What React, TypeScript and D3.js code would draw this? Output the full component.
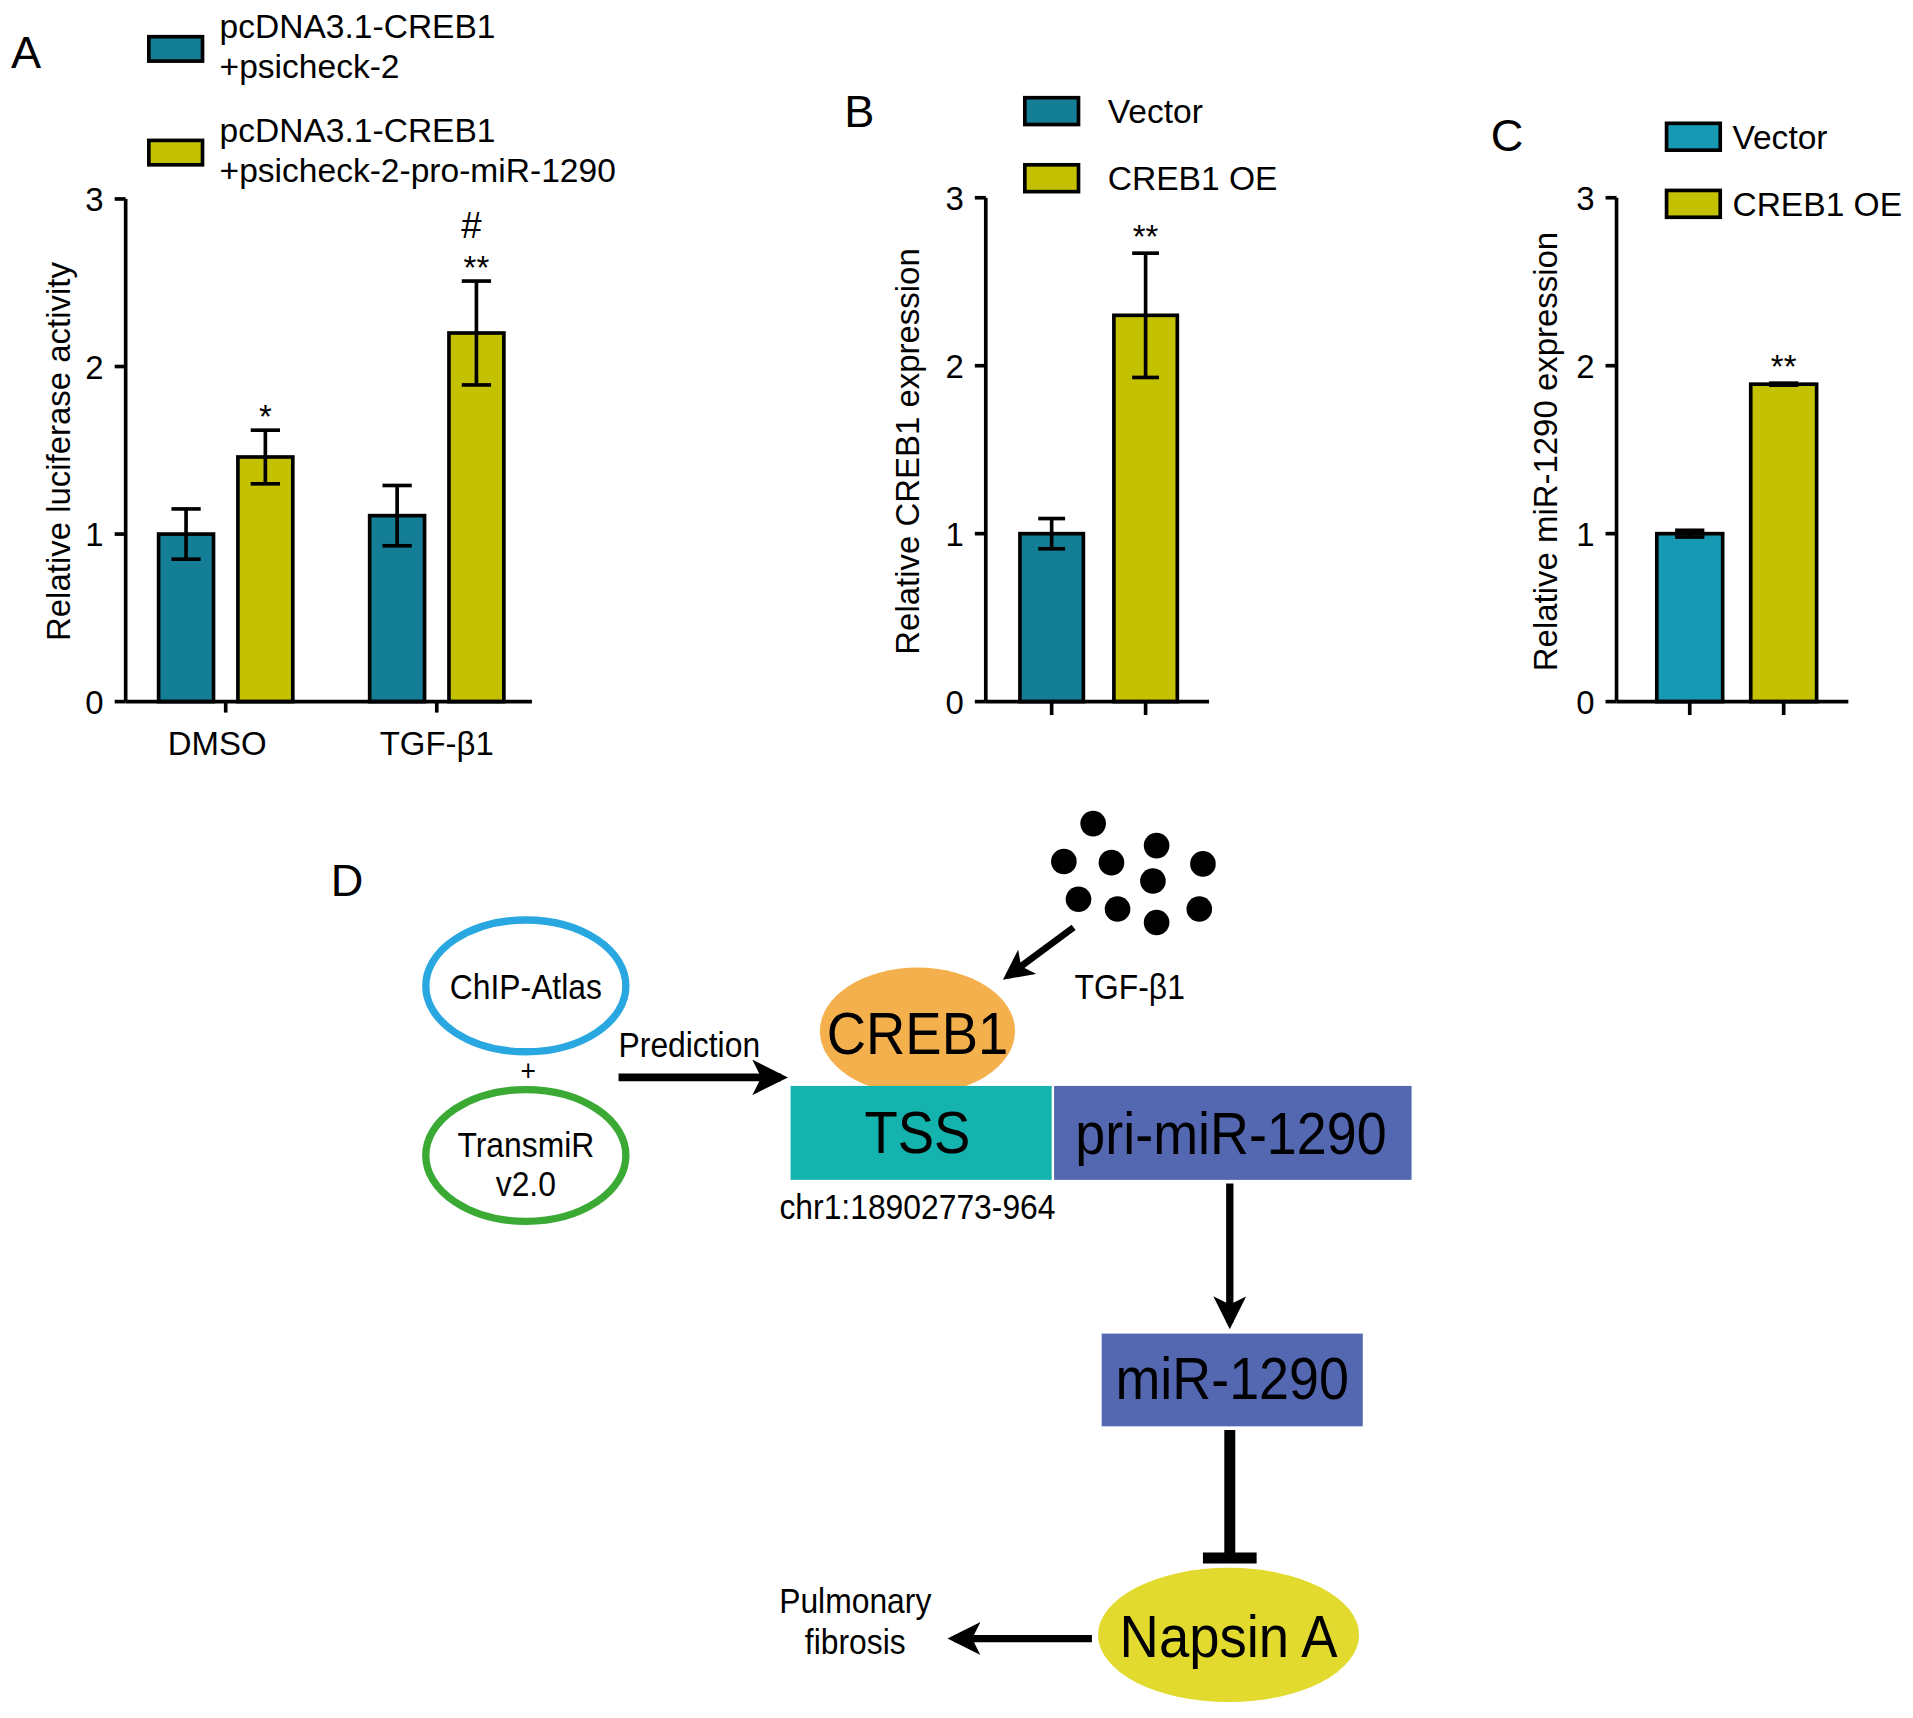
import React from "react";
import * as d3 from "d3";

// ---------- Data ----------
const groupsA = ["DMSO", "TGF-β1"];
const legendA = [
  ["pcDNA3.1-CREB1", "+psicheck-2"],
  ["pcDNA3.1-CREB1", "+psicheck-2-pro-miR-1290"],
];
const vectorA = [1.0, 1.11];
const vectorErrA = [0.15, 0.18];
const oeA = [1.46, 2.2];
const oeErrA = [0.16, 0.31];
const sigA = ["*", "**"];

const groupsBC = ["Vector", "CREB1 OE"];
const valuesB = [1.0, 2.3];
const errB = [0.09, 0.37];
const valuesC = [1.0, 1.89];
const errC = [0.02, 0.006];

const yTicks = [0, 1, 2, 3];

const TEAL = "#137e95";
const TEAL_C = "#1799b3";
const YELLOW = "#c4c100";
const FONT = "'Liberation Sans', Arial, Helvetica, sans-serif";

function YAxis({ x, y, ticks }: { x: number; y: d3.ScaleLinear<number, number>; ticks: number[] }) {
  return (
    <g>
      <line x1={x} x2={x} y1={y(3)} y2={y(0)} stroke="#000" strokeWidth={3} />
      {ticks.map((t) => (
        <g key={t}>
          <line x1={x - 9} x2={x} y1={y(t)} y2={y(t)} stroke="#000" strokeWidth={3} />
          <text x={x - 18} y={y(t) + 10} textAnchor="end" fontSize={27} fontFamily={FONT}>
            {t}
          </text>
        </g>
      ))}
    </g>
  );
}

function ErrBar({ cx, y, v, e, cap }: { cx: number; y: any; v: number; e: number; cap: number }) {
  return (
    <g stroke="#000" strokeWidth={3}>
      <line x1={cx} x2={cx} y1={y(v + e)} y2={y(v - e)} />
      <line x1={cx - cap / 2} x2={cx + cap / 2} y1={y(v + e)} y2={y(v + e)} />
      <line x1={cx - cap / 2} x2={cx + cap / 2} y1={y(v - e)} y2={y(v - e)} />
    </g>
  );
}

function NText({ x, y, size, children, sx = 0.9 }: any) {
  return (
    <g transform={`translate(${x},${y}) scale(${sx},1)`}>
      <text x={0} y={0} textAnchor="middle" fontSize={size} fontFamily={FONT}>{children}</text>
    </g>
  );
}

function PanelA() {
  const y = d3.scaleLinear().domain([0, 3]).range([575, 163]);
  const x = d3.scalePoint<string>().domain(groupsA).range([185, 358]);
  const bw = 45;
  const off = 32.5;
  const axisX = 103;
  return (
    <g>
      <text x={9} y={56} fontSize={37} fontFamily={FONT}>A</text>
      {legendA.map((lines, i) => (
        <g key={i}>
          <rect x={122} y={30 + i * 85} width={44} height={20} fill={i === 0 ? TEAL : YELLOW} stroke="#000" strokeWidth={3} />
          <text x={180} y={31 + i * 85} fontSize={27.5} fontFamily={FONT}>{lines[0]}</text>
          <text x={180} y={64 + i * 85} fontSize={27.5} fontFamily={FONT}>{lines[1]}</text>
        </g>
      ))}
      {groupsA.map((g, i) => {
        const cx = x(g)!;
        return (
          <g key={g}>
            <rect x={cx - off - bw / 2} y={y(vectorA[i])} width={bw} height={y(0) - y(vectorA[i])} fill={TEAL} stroke="#000" strokeWidth={3} />
            <rect x={cx + off - bw / 2} y={y(oeA[i])} width={bw} height={y(0) - y(oeA[i])} fill={YELLOW} stroke="#000" strokeWidth={3} />
            <ErrBar cx={cx - off} y={y} v={vectorA[i]} e={vectorErrA[i]} cap={24} />
            <ErrBar cx={cx + off} y={y} v={oeA[i]} e={oeErrA[i]} cap={24} />
            <text x={cx + off} y={y(oeA[i] + oeErrA[i]) - 2} textAnchor="middle" fontSize={27} fontFamily={FONT}>{sigA[i]}</text>
            <line x1={cx} x2={cx} y1={y(0)} y2={y(0) + 9} stroke="#000" strokeWidth={3} />
            <text x={cx - (i === 0 ? 7 : 0)} y={619} textAnchor="middle" fontSize={27} fontFamily={FONT}>{g}</text>
          </g>
        );
      })}
      <text x={x("TGF-β1")! + off - 4} y={195} textAnchor="middle" fontSize={30} fontFamily={FONT}>#</text>
      <line x1={axisX} x2={436} y1={y(0)} y2={y(0)} stroke="#000" strokeWidth={3} />
      <YAxis x={axisX} y={y} ticks={yTicks} />
      <text transform={`translate(57,370) rotate(-90)`} textAnchor="middle" fontSize={27} fontFamily={FONT}>
        Relative luciferase activity
      </text>
    </g>
  );
}

function PanelBC({
  letter, letterX, letterY, axisX, axisEnd, range, bw, values, errs, teal, legendX, legendTextX, legendY, legendGap, title, titleX, sigGap, cap,
}: any) {
  const y = d3.scaleLinear().domain([0, 3]).range([575, 162]);
  const x = d3.scalePoint<string>().domain(groupsBC).range(range);
  return (
    <g>
      <text x={letterX} y={letterY} fontSize={37} fontFamily={FONT}>{letter}</text>
      {groupsBC.map((g, i) => (
        <g key={g}>
          <rect x={legendX} y={legendY + i * legendGap - 11} width={44} height={22} fill={i === 0 ? teal : YELLOW} stroke="#000" strokeWidth={3} />
          <text x={legendTextX} y={legendY + i * legendGap + 10} fontSize={27.5} fontFamily={FONT}>{g}</text>
        </g>
      ))}
      {groupsBC.map((g, i) => {
        const cx = x(g)!;
        return (
          <g key={g}>
            <rect x={cx - bw / 2} y={y(values[i])} width={bw} height={y(0) - y(values[i])} fill={i === 0 ? teal : YELLOW} stroke="#000" strokeWidth={3} />
            <ErrBar cx={cx} y={y} v={values[i]} e={errs[i]} cap={cap} />
            <line x1={cx} x2={cx} y1={y(0)} y2={y(0) + 11} stroke="#000" strokeWidth={3} />
            {i === 1 && (
              <text x={cx} y={y(values[i] + errs[i]) - sigGap} textAnchor="middle" fontSize={27} fontFamily={FONT}>**</text>
            )}
          </g>
        );
      })}
      <line x1={axisX} x2={axisEnd} y1={y(0)} y2={y(0)} stroke="#000" strokeWidth={3} />
      <YAxis x={axisX} y={y} ticks={yTicks} />
      <text transform={`translate(${titleX},370) rotate(-90)`} textAnchor="middle" fontSize={27} fontFamily={FONT}>
        {title}
      </text>
    </g>
  );
}

function PanelD() {
  const dots: [number, number][] = [
    [896, 675], [872, 706], [911, 707], [948, 693], [986, 708],
    [945, 722], [884, 737], [916, 745], [948, 756], [983, 745],
  ];
  return (
    <g>
      <defs>
        <marker id="ah" viewBox="0 0 10 10" refX="8" refY="5" markerWidth="4.5" markerHeight="4.5" orient="auto-start-reverse">
          <path d="M0,0 L10,5 L0,10 L2.5,5 z" fill="#000" />
        </marker>
      </defs>
      <text x={271} y={734} fontSize={37} fontFamily={FONT}>D</text>
      <ellipse cx={431} cy={808} rx={82} ry={54} fill="none" stroke="#29a7e1" strokeWidth={6} />
      <NText x={431} y={819} size={29}>ChIP-Atlas</NText>
      <NText x={433} y={886} size={24}>+</NText>
      <ellipse cx={431} cy={947} rx={82} ry={54} fill="none" stroke="#3aaa35" strokeWidth={6} />
      <NText x={431} y={948} size={29}>TransmiR</NText>
      <NText x={431} y={980} size={29}>v2.0</NText>
      <NText x={565} y={866} size={29}>Prediction</NText>
      <line x1={507} x2={640} y1={883} y2={883} stroke="#000" strokeWidth={6.5} markerEnd="url(#ah)" />
      {dots.map(([cx, cy], i) => (
        <circle key={i} cx={cx} cy={cy} r={10.5} fill="#000" />
      ))}
      <NText x={926} y={819} size={29}>TGF-β1</NText>
      <line x1={880} x2={826} y1={760} y2={800} stroke="#000" strokeWidth={5.5} markerEnd="url(#ah)" />
      <ellipse cx={752} cy={845} rx={80} ry={52} fill="#f5b04e" />
      <rect x={648} y={890} width={214} height={77} fill="#15b3ad" />
      <rect x={864} y={890} width={293} height={77} fill="#5468b2" />
      <NText x={752} y={864} size={48} sx={0.93}>CREB1</NText>
      <NText x={752} y={945} size={48} sx={0.93}>TSS</NText>
      <NText x={1009} y={946} size={48} sx={0.92}>pri-miR-1290</NText>
      <NText x={752} y={999} size={29}>chr1:18902773-964</NText>
      <line x1={1008} x2={1008} y1={970} y2={1084} stroke="#000" strokeWidth={6} markerEnd="url(#ah)" />
      <rect x={903} y={1093} width={214} height={76} fill="#5468b2" />
      <NText x={1010} y={1147} size={48} sx={0.92}>miR-1290</NText>
      <line x1={1008} x2={1008} y1={1172} y2={1275} stroke="#000" strokeWidth={9} />
      <line x1={986} x2={1030} y1={1277} y2={1277} stroke="#000" strokeWidth={9} />
      <ellipse cx={1007} cy={1340} rx={107} ry={55} fill="#e3da2f" />
      <NText x={1007} y={1358} size={48} sx={0.93}>Napsin A</NText>
      <line x1={895} x2={782} y1={1343} y2={1343} stroke="#000" strokeWidth={6} markerEnd="url(#ah)" />
      <NText x={701} y={1322} size={29}>Pulmonary</NText>
      <NText x={701} y={1356} size={29}>fibrosis</NText>
    </g>
  );
}

export default function App() {
  return (
    <svg
      width={1913}
      height={1718}
      viewBox="0 0 1568 1408"
      style={{ position: "absolute", left: 0, top: 0, background: "#fff" }}
    >
      <rect x={0} y={0} width={1568} height={1408} fill="#fff" />
      <PanelA />
      <PanelBC
        letter="B" letterX={692} letterY={104} axisX={808} axisEnd={991} range={[862, 939]} bw={52}
        values={valuesB} errs={errB} teal={TEAL} legendX={840} legendTextX={908} legendY={91} legendGap={55}
        title="Relative CREB1 expression" titleX={753} sigGap={4} cap={22}
      />
      <PanelBC
        letter="C" letterX={1222} letterY={124} axisX={1325} axisEnd={1515} range={[1385, 1462]} bw={54}
        values={valuesC} errs={errC} teal={TEAL_C} legendX={1366} legendTextX={1420} legendY={112} legendGap={55}
        title="Relative miR-1290 expression" titleX={1276} sigGap={4} cap={24}
      />
      <PanelD />
    </svg>
  );
}
